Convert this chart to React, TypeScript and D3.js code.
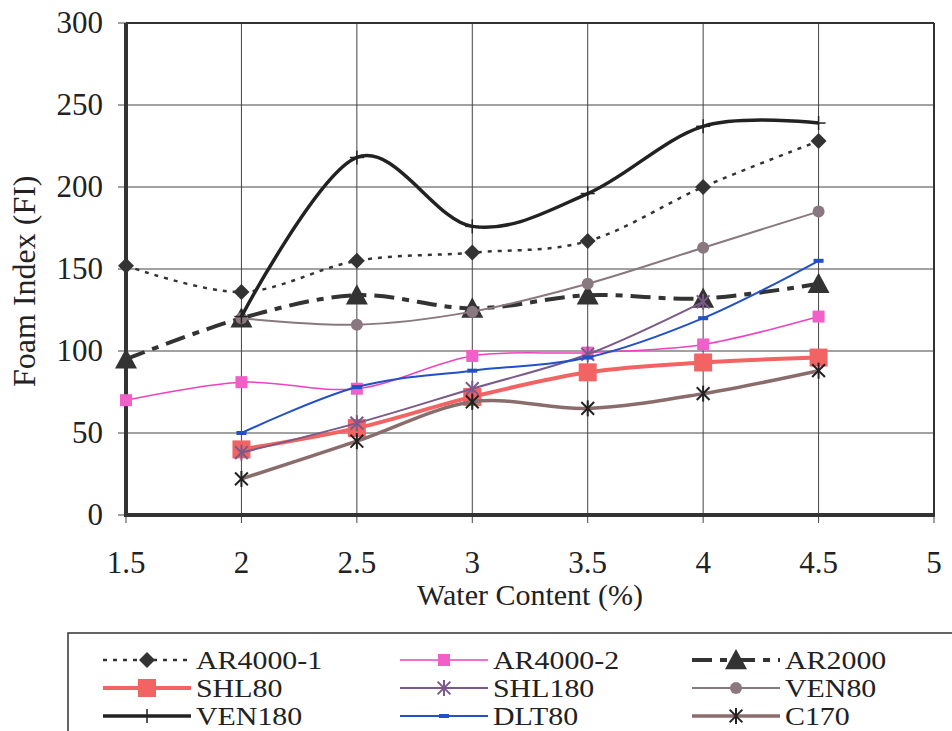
import React from "react";
import * as d3 from "d3";

const xTicks = [1.5, 2, 2.5, 3, 3.5, 4, 4.5, 5];
const yTicks = [0, 50, 100, 150, 200, 250, 300];

const ar4000_1 = [[1.5, 152], [2, 136], [2.5, 155], [3, 160], [3.5, 167], [4, 200], [4.5, 228]];
const ar4000_2 = [[1.5, 70], [2, 81], [2.5, 77], [3, 97], [3.5, 99], [4, 104], [4.5, 121]];
const ar2000 = [[1.5, 95], [2, 120], [2.5, 134], [3, 126], [3.5, 134], [4, 132], [4.5, 141]];
const shl80 = [[2, 40], [2.5, 53], [3, 72], [3.5, 87], [4, 93], [4.5, 96]];
const shl180 = [[2, 38], [2.5, 56], [3, 77], [3.5, 98], [4, 130]];
const ven80 = [[2, 120], [2.5, 116], [3, 124], [3.5, 141], [4, 163], [4.5, 185]];
const ven180 = [[2, 121], [2.5, 218], [3, 176], [3.5, 196], [4, 237], [4.5, 239]];
const dlt80 = [[2, 50], [2.5, 78], [3, 88], [3.5, 96], [4, 120], [4.5, 155]];
const c170 = [[2, 22], [2.5, 45], [3, 69], [3.5, 65], [4, 74], [4.5, 88]];

type Series = {
  name: string;
  data: number[][];
  color: string;
  width: number;
  dash?: string;
  marker: string;
  mColor: string;
  mSize: number;
};

const series: Series[] = [
  { name: "AR4000-1", data: ar4000_1, color: "#333", width: 2.5, dash: "4,6", marker: "diamond", mColor: "#333", mSize: 8 },
  { name: "AR4000-2", data: ar4000_2, color: "#f040c0", width: 1.5, marker: "square", mColor: "#f060c8", mSize: 6 },
  { name: "AR2000", data: ar2000, color: "#333", width: 4, dash: "20,8,7,8", marker: "triangle", mColor: "#333", mSize: 11 },
  { name: "SHL80", data: shl80, color: "#f26464", width: 4, marker: "square", mColor: "#f26464", mSize: 9 },
  { name: "SHL180", data: shl180, color: "#7a5a88", width: 2, marker: "star", mColor: "#7a5a88", mSize: 8 },
  { name: "VEN80", data: ven80, color: "#8a7880", width: 2, marker: "circle", mColor: "#8a7880", mSize: 6 },
  { name: "VEN180", data: ven180, color: "#222", width: 3.5, marker: "plus", mColor: "#222", mSize: 7 },
  { name: "DLT80", data: dlt80, color: "#2250c8", width: 2, marker: "dash", mColor: "#2250c8", mSize: 5 },
  { name: "C170", data: c170, color: "#8a6c6c", width: 3.5, marker: "star", mColor: "#222", mSize: 8 },
];

const L = 126, R = 934, T = 23, B = 515;
const x = d3.scaleLinear().domain([1.5, 5]).range([L, R]);
const y = d3.scaleLinear().domain([0, 300]).range([B, T]);

function Marker({ type, cx, cy, color, s }: { type: string; cx: number; cy: number; color: string; s: number }) {
  if (type === "diamond")
    return <path d={`M${cx},${cy - s}L${cx + s},${cy}L${cx},${cy + s}L${cx - s},${cy}Z`} fill={color} />;
  if (type === "square")
    return <rect x={cx - s} y={cy - s} width={2 * s} height={2 * s} fill={color} />;
  if (type === "triangle")
    return <path d={`M${cx},${cy - s}L${cx + s},${cy + s * 0.85}L${cx - s},${cy + s * 0.85}Z`} fill={color} />;
  if (type === "circle") return <circle cx={cx} cy={cy} r={s} fill={color} />;
  if (type === "plus")
    return (
      <g stroke={color} strokeWidth={1.5}>
        <line x1={cx} y1={cy - s} x2={cx} y2={cy + s} />
        <line x1={cx - s} y1={cy} x2={cx + s} y2={cy} />
      </g>
    );
  if (type === "dash") return <rect x={cx - s} y={cy - 2} width={2 * s} height={4} fill={color} />;
  if (type === "star")
    return (
      <g stroke={color} strokeWidth={2}>
        <line x1={cx} y1={cy - s} x2={cx} y2={cy + s} />
        <line x1={cx - s * 0.8} y1={cy - s * 0.8} x2={cx + s * 0.8} y2={cy + s * 0.8} />
        <line x1={cx - s * 0.8} y1={cy + s * 0.8} x2={cx + s * 0.8} y2={cy - s * 0.8} />
      </g>
    );
  return null;
}

export default function App() {
  const line = d3
    .line<number[]>()
    .x((d) => x(d[0]))
    .y((d) => y(d[1]))
    .curve(d3.curveCardinal.tension(0));

  const font = "'Liberation Serif', 'Times New Roman', serif";
  const legendCols = [103, 400, 692];
  const legendRows = [660, 688, 716];
  const len = 88;

  return (
    <svg width={952} height={731} style={{ position: "absolute", left: 0, top: 0, background: "#fff" }} fontFamily={font}>
      <rect width={952} height={731} fill="#fff" />
      {xTicks.map((t) => (
        <line key={"gx" + t} x1={x(t)} x2={x(t)} y1={T} y2={B + 8} stroke="#444" strokeWidth={1} />
      ))}
      {yTicks.map((t) => (
        <line key={"gy" + t} x1={L - 8} x2={R} y1={y(t)} y2={y(t)} stroke="#444" strokeWidth={1} />
      ))}
      <line x1={L} x2={R} y1={T} y2={T} stroke="#333" strokeWidth={2} />
      <line x1={R} x2={R} y1={T} y2={B} stroke="#333" strokeWidth={2} />
      <line x1={L} x2={L} y1={T} y2={B + 2} stroke="#333" strokeWidth={4} />
      <line x1={L - 2} x2={R + 1} y1={B} y2={B} stroke="#333" strokeWidth={4} />
      {yTicks.map((t) => (
        <text key={"ty" + t} x={103} y={y(t) + 10} textAnchor="end" fontSize={31} fill="#222">
          {t}
        </text>
      ))}
      {xTicks.map((t) => (
        <text key={"tx" + t} x={x(t)} y={573} textAnchor="middle" fontSize={31} fill="#222">
          {t}
        </text>
      ))}
      <text x={530} y={605} textAnchor="middle" fontSize={30} fill="#222">
        Water Content (%)
      </text>
      <text transform="translate(35,387) rotate(-90)" textAnchor="start" fontSize={32} fill="#222">
        Foam Index (FI)
      </text>
      {series.map((s) => (
        <g key={s.name}>
          <path d={line(s.data) || ""} fill="none" stroke={s.color} strokeWidth={s.width} strokeDasharray={s.dash} />
          {s.data.map((d, i) => (
            <Marker key={i} type={s.marker} cx={x(d[0])} cy={y(d[1])} color={s.mColor} s={s.mSize} />
          ))}
        </g>
      ))}
      <rect x={68} y={633} width={900} height={120} fill="#fff" stroke="#333" strokeWidth={1.5} />
      {series.map((s, i) => {
        const cx0 = legendCols[i % 3];
        const cy0 = legendRows[Math.floor(i / 3)];
        const tx = cx0 + len + 5;
        return (
          <g key={"lg" + s.name}>
            <line x1={cx0} x2={cx0 + len} y1={cy0} y2={cy0} stroke={s.color} strokeWidth={s.width} strokeDasharray={s.dash} />
            <Marker type={s.marker} cx={cx0 + len / 2} cy={cy0} color={s.mColor} s={s.mSize} />
            <text transform={`translate(${tx},${cy0 + 9}) scale(1.15,1)`} fontSize={26} fill="#222">
              {s.name}
            </text>
          </g>
        );
      })}
    </svg>
  );
}
